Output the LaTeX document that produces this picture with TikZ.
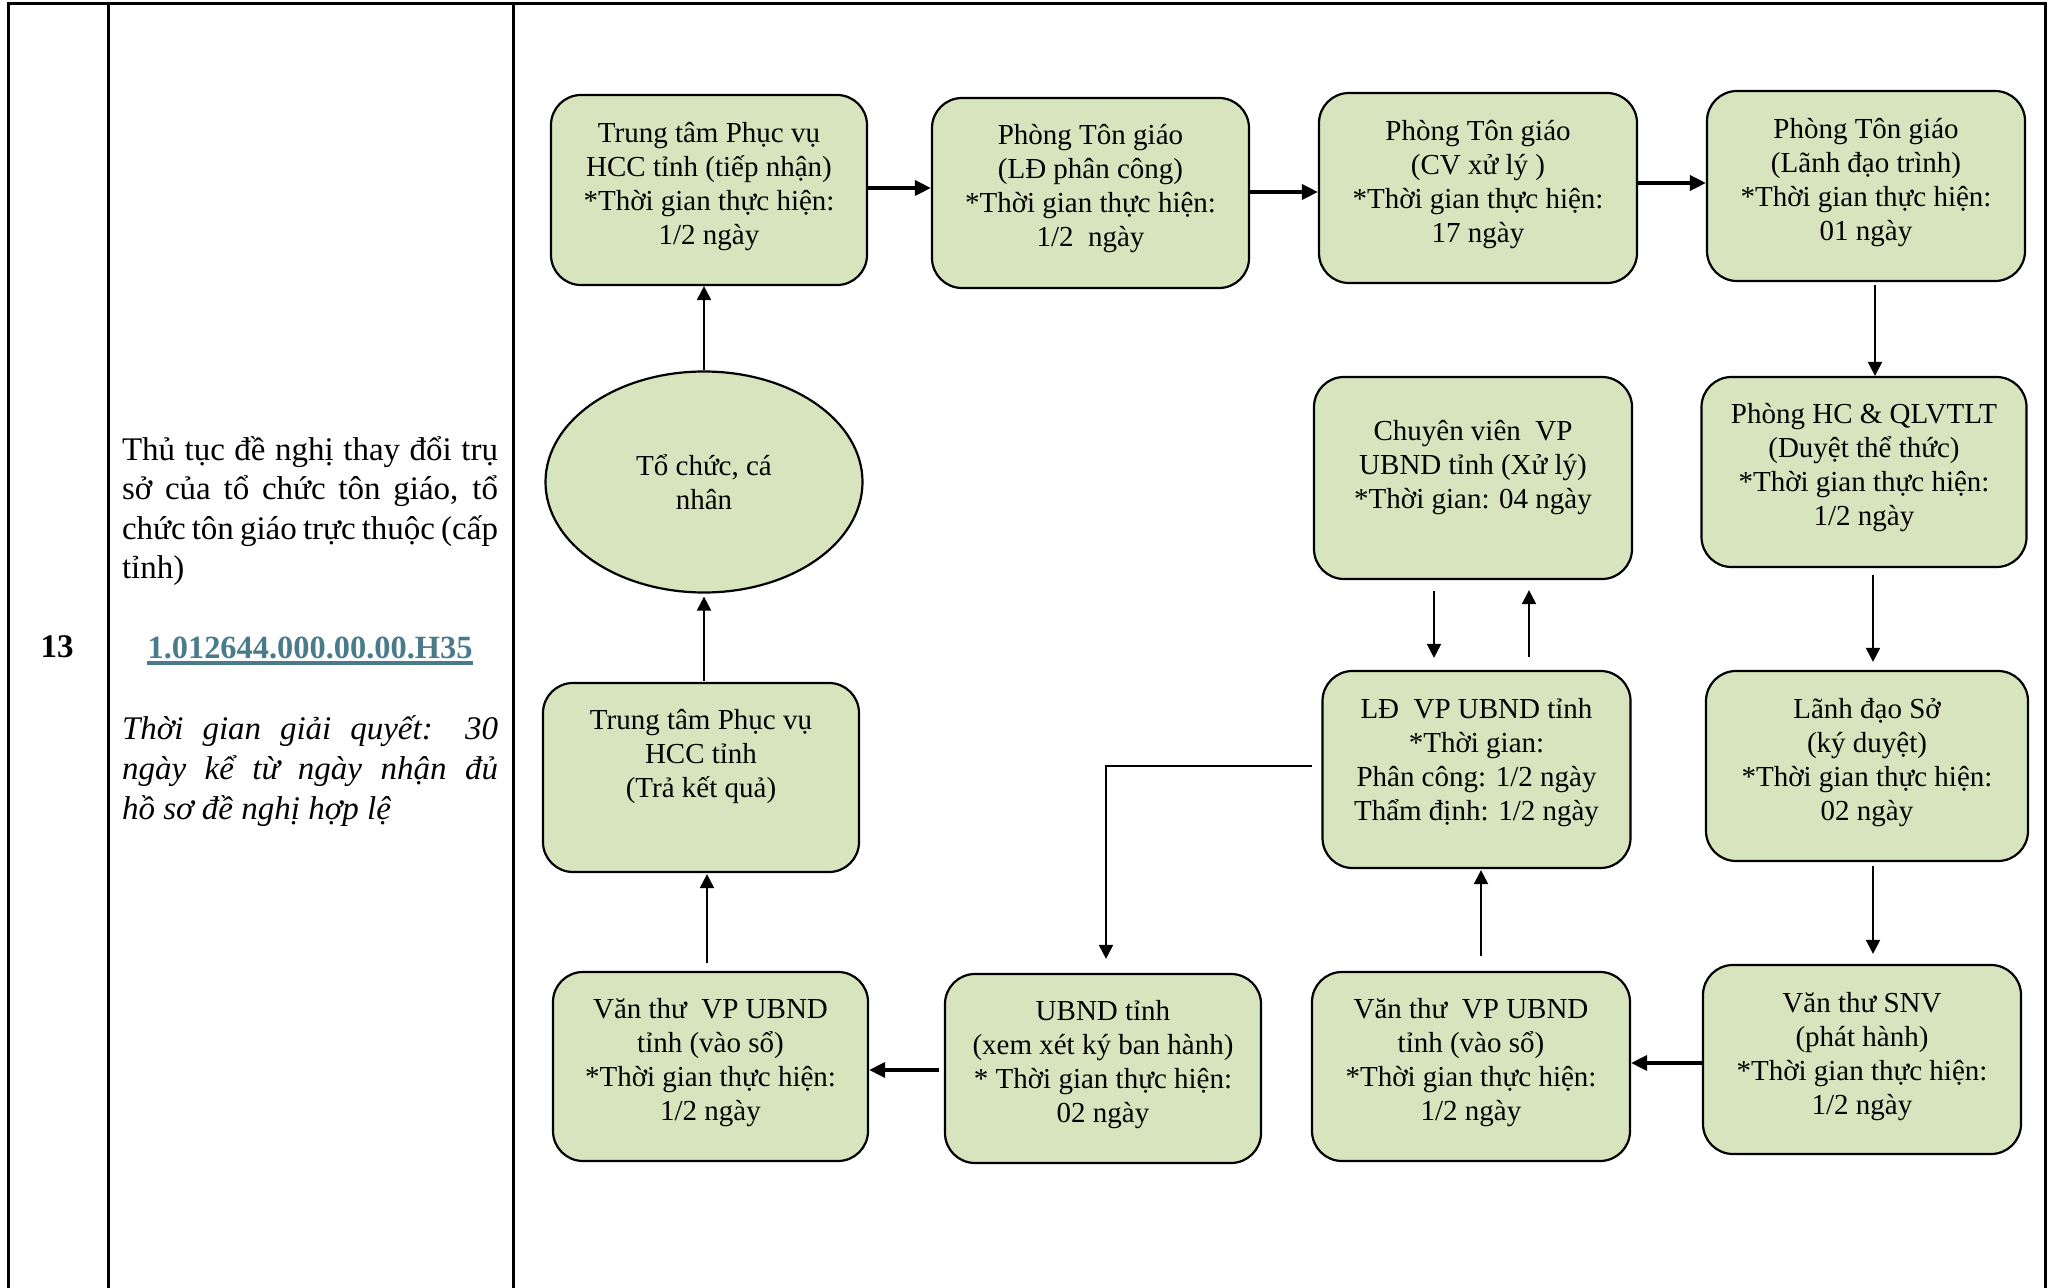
\documentclass[tikz,border=0pt]{standalone}
\usepackage{fontspec}
\setmainfont{Liberation Serif}
\usetikzlibrary{shapes.geometric,arrows.meta,calc}
\definecolor{boxgreen}{HTML}{D7E4BD}
\definecolor{codecol}{HTML}{4A7B8A}
\newcommand{\boxfs}{\fontsize{14.5}{17}\selectfont}
\newcommand{\leftfs}{\fontsize{16.5}{19.8}\selectfont}
\begin{document}
\begin{tikzpicture}[x=0.5pt,y=-0.5pt,
  box/.style 2 args={draw=black, line width=1.1pt, fill=boxgreen, rounded corners=15pt,
    minimum width=#1*0.5pt, minimum height=#2*0.5pt, inner sep=0pt},
  ell/.style 2 args={ellipse, draw=black, line width=1.1pt, fill=boxgreen,
    minimum width=#1*0.5pt, minimum height=#2*0.5pt, inner sep=0pt},
  txt/.style={font=\boxfs, align=center, inner sep=0pt},
  tbl/.style={line width=1.5pt, line cap=rect},
  arr/.style={-{Triangle[length=7pt,width=7pt]}, line width=1pt},
  harr/.style={-{Triangle[length=8pt,width=7.5pt]}, line width=1.8pt},
  lpar/.style={text width=188pt, align=justify, font=\leftfs, inner sep=0pt}
]
\useasboundingbox (0,0) rectangle (2051,1288);

% table frame
\draw[tbl] (8,1288) -- (8,4) -- (2045,4) -- (2045,1288);
\draw[tbl] (108,4) -- (108,1288);
\draw[tbl] (513,4) -- (513,1288);

% left column
\node[font=\leftfs\bfseries, inner sep=0pt] (num) at (57,647) {13};
\node[lpar] (title) at (310,511) {Thủ tục đề nghị thay đổi trụ\linebreak sở của tổ chức tôn giáo, tổ\linebreak chức tôn giáo trực thuộc (cấp\linebreak tỉnh)};
\node[font=\fontsize{16.2}{19}\selectfont\bfseries, text=codecol, inner sep=0pt] (code) at (310,647.5) {1.012644.000.00.00.H35};
\draw[codecol, line width=1.65pt] ($(code.base west)+(0,5)$) -- ($(code.base east)+(0,5)$);
\node[lpar, font=\fontsize{16.5}{20.1}\selectfont\itshape] (time) at (310,771) {Thời gian giải quyết: 30\linebreak ngày kể từ ngày nhận đủ\linebreak hồ sơ đề nghị hợp lệ};

% boxes
\node[box={316}{190}, label={[txt,yshift=1.5pt]center:{Trung tâm Phục vụ\\HCC tỉnh (tiếp nhận)\\*Thời gian thực hiện:\\1/2 ngày}}] (B1) at (709,190) {};
\node[box={317}{190}, label={[txt,yshift=2pt]center:{Phòng Tôn giáo\\(LĐ phân công)\\*Thời gian thực hiện:\\1/2~ ngày}}] (B2) at (1090.5,193) {};
\node[box={318}{190}, label={[txt,yshift=1.5pt]center:{Phòng Tôn giáo\\(CV xử lý )\\*Thời gian thực hiện:\\17 ngày}}] (B3) at (1478,188) {};
\node[box={318}{190}, label={[txt,yshift=1.5pt]center:{Phòng Tôn giáo\\(Lãnh đạo trình)\\*Thời gian thực hiện:\\01 ngày}}] (B4) at (1866,186) {};

\node[ell={317}{221}, txt] (E) at (704,482) {Tổ chức, cá\\nhân};
\node[box={318}{202}, label={[txt,yshift=5pt]center:{Chuyên viên~ VP\\UBND tỉnh (Xử lý)\\*Thời gian: 04 ngày}}] (B6) at (1473,478) {};
\node[box={325}{190}, label={[txt,yshift=2pt]center:{Phòng HC \& QLVTLT\\(Duyệt thể thức)\\*Thời gian thực hiện:\\1/2 ngày}}] (B7) at (1864,472) {};

\node[box={316}{189}, label={[txt,yshift=10.5pt]center:{Trung tâm Phục vụ\\HCC tỉnh\\(Trả kết quả)}}] (B5) at (701,777.5) {};
\node[box={308}{197}, label={[txt,yshift=3.5pt]center:{LĐ~ VP UBND tỉnh\\*Thời gian:\\Phân công: 1/2 ngày\\Thẩm định: 1/2 ngày}}] (B8) at (1476.5,769.5) {};
\node[box={322}{190}, label={[txt,yshift=1.5pt]center:{Lãnh đạo Sở\\(ký duyệt)\\*Thời gian thực hiện:\\02 ngày}}] (B9) at (1867,766) {};

\node[box={315}{189}, label={[txt,yshift=2pt]center:{Văn thư~ VP UBND\\tỉnh (vào sổ)\\*Thời gian thực hiện:\\1/2 ngày}}] (B11) at (710.5,1066.5) {};
\node[box={316}{189}, label={[txt,yshift=2pt]center:{UBND tỉnh\\(xem xét ký ban hành)\\* Thời gian thực hiện:\\02 ngày}}] (B12) at (1103,1068.5) {};
\node[box={318}{189}, label={[txt,yshift=2pt]center:{Văn thư~ VP UBND\\tỉnh (vào sổ)\\*Thời gian thực hiện:\\1/2 ngày}}] (B13) at (1471,1066.5) {};
\node[box={318}{189}, label={[txt,yshift=1.5pt]center:{Văn thư SNV\\(phát hành)\\*Thời gian thực hiện:\\1/2 ngày}}] (B10) at (1862,1059.5) {};

% connectors
\draw[harr] ($(B1.east)+(0,-2)$) -- ($(B1.east -| B2.west)+(0,-2)$);
\draw[harr] ($(B2.east)+(0,-1)$) -- ($(B2.east -| B3.west)+(0,-1)$);
\draw[harr] ($(B3.east)+(0,-5)$) -- ($(B3.east -| B4.west)+(0,-5)$);
\draw[arr] ($(B4.south)+(9,3)$) -- ($(B4.south |- B7.north)+(9,0)$);
\draw[arr] ($(B7.south)+(9,7)$) -- ($(B7.south |- B9.north)+(9,-8)$);
\draw[arr] ($(B9.south)+(6,4)$) -- ($(B9.south |- B10.north)+(6,-10)$);
\draw[harr] ($(B10.west)+(0,3.5)$) -- ($(B13.east |- B10.west)+(0,3.5)$);
\draw[arr] ($(B13.north)+(10,-15)$) -- ($(B13.north |- B8.south)+(10,1)$);
\draw[arr] ($(B8.north)+(52.5,-13)$) -- ($(B8.north |- B6.south)+(52.5,10)$);
\draw[arr] ($(B6.south)+(-39,11)$) -- ($(B6.south |- B8.north)+(-39,-12)$);
\draw[arr] ($(B8.west)+(-9,-3.5)$) -| ($(B12.north)+(3,-14)$);
\draw[harr] ($(B12.west)+(-5,1.5)$) -- ($(B11.east |- B12.west)+(0,1.5)$);
\draw[arr] ($(B11.north)+(-3.5,-8)$) -- ($(B11.north |- B5.south)+(-3.5,1)$);
\draw[arr] ($(B5.north)+(3,-1)$) -- ($(B5.north |- E.south)+(3,3)$);
\draw[arr] (E.north) -- (E.north |- B1.south);
\end{tikzpicture}
\end{document}
